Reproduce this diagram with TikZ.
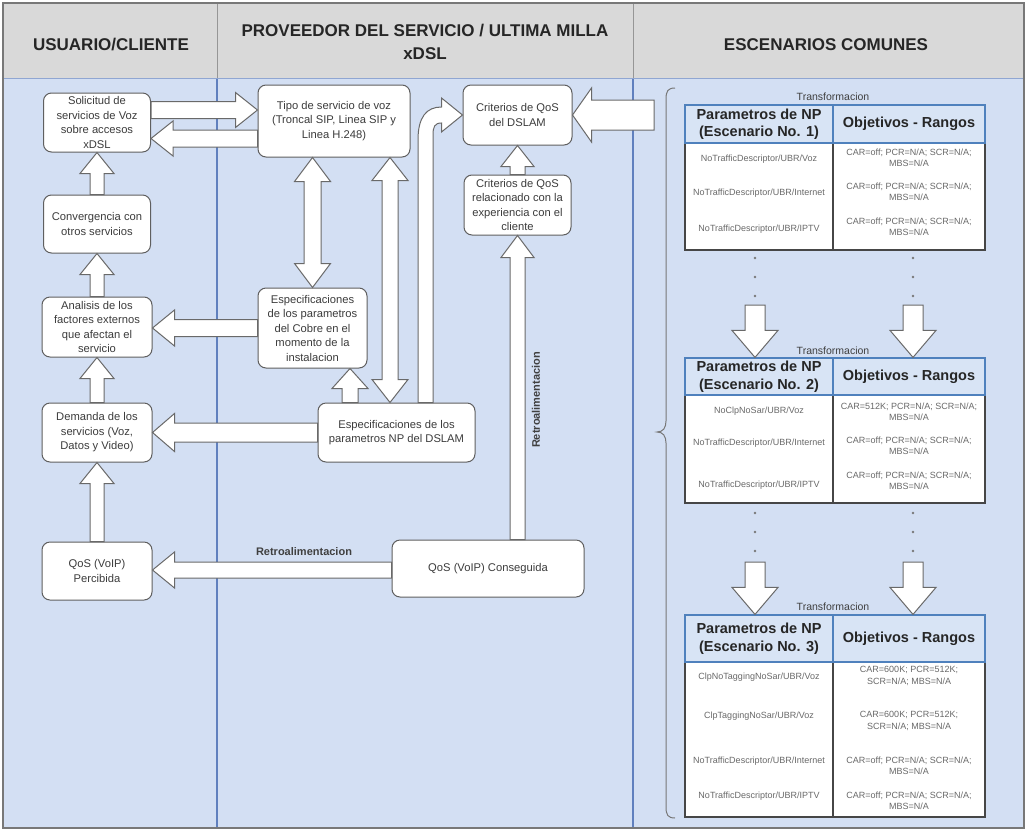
\documentclass[tikz,border=0pt]{standalone}
\usepackage{fontspec}
\setmainfont{Liberation Sans}
\usetikzlibrary{calc}

\definecolor{bodyblue}{RGB}{211,223,243}
\definecolor{headgray}{RGB}{217,217,217}
\definecolor{divblue}{RGB}{96,128,190}
\definecolor{headline}{RGB}{150,150,150}
\definecolor{frameline}{RGB}{120,120,120}
\definecolor{boxline}{RGB}{95,95,95}
\definecolor{arrline}{RGB}{105,105,105}
\definecolor{txt}{RGB}{60,60,60}
\definecolor{thfill}{RGB}{216,228,245}
\definecolor{thline}{RGB}{79,129,189}
\definecolor{tbline}{RGB}{70,70,70}
\definecolor{tbtxt}{RGB}{105,105,105}
\definecolor{dotc}{RGB}{120,120,120}

% straight block arrow: from, to, half shaft, half head, head length
\newcommand\blockarrow[5]{%
  \path (#1) coordinate (baA) (#2) coordinate (baB);
  \path ($(baB)!#5!(baA)$) coordinate (baH);
  \draw[blk] ($(baA)!#3!90:(baB)$) -- ($(baH)!#3!90:(baB)$) -- ($(baH)!#4!90:(baB)$)
    -- (baB) -- ($(baH)!#4!-90:(baB)$) -- ($(baH)!#3!-90:(baB)$)
    -- ($(baA)!#3!-90:(baB)$) -- cycle;
}
% double-headed block arrow
\newcommand\dblockarrow[5]{%
  \path (#1) coordinate (baA) (#2) coordinate (baB);
  \path ($(baB)!#5!(baA)$) coordinate (baH) ($(baA)!#5!(baB)$) coordinate (baG);
  \draw[blk] (baA) -- ($(baG)!#4!90:(baB)$) -- ($(baG)!#3!90:(baB)$)
    -- ($(baH)!#3!90:(baB)$) -- ($(baH)!#4!90:(baB)$) -- (baB)
    -- ($(baH)!#4!-90:(baB)$) -- ($(baH)!#3!-90:(baB)$)
    -- ($(baG)!#3!-90:(baB)$) -- ($(baG)!#4!-90:(baB)$) -- cycle;
}

\begin{document}
\begin{tikzpicture}[x=1pt,y=-1pt,
  hdr/.style={font=\bfseries\fontsize{17}{23}\selectfont, text=black!85, align=center, inner sep=0pt},
  box/.style={draw=boxline, line width=1pt, fill=white, rounded corners=8pt, align=center,
    text=txt, font=\fontsize{11.2}{14.5}\selectfont, inner sep=1pt},
  blk/.style={draw=arrline, fill=white, line width=1pt, line join=miter},
  lbl/.style={font=\bfseries\fontsize{11}{13}\selectfont, text=black!75, inner sep=0pt},
  thead/.style={draw=thline, line width=1.2pt, fill=thfill, font=\bfseries\fontsize{14.5}{17.5}\selectfont,
    align=center, inner sep=0pt, text=black!85},
  tbody/.style={draw=tbline, line width=1.2pt, fill=white, inner sep=0pt},
  tcell/.style={font=\fontsize{9}{11.5}\selectfont, text=tbtxt, align=center, inner sep=0pt},
  trans/.style={font=\fontsize{10.5}{12}\selectfont, text=black!75, inner sep=0pt},
  brace/.style={draw=frameline, line width=1pt}
]
\useasboundingbox (0,0) rectangle (1027,830);

% lanes
\fill[white] (0,0) rectangle (1027,830);
\fill[bodyblue] (3,78) rectangle (1024,828);
\fill[headgray] (3,3) rectangle (1024,78);
\draw[divblue, line width=1.2pt] (217,78) -- (217,828) (633,78) -- (633,828);
\draw[headline, line width=1pt] (217,3) -- (217,78) (633,3) -- (633,78);
\draw[divblue!70, line width=1pt] (3,78) -- (1024,78);
\draw[frameline, line width=1.5pt] (3,3) rectangle (1024,828);

\node[hdr] (h1) at (111,45) {USUARIO/CLIENTE};
\node[hdr] (h2) at (425,42) {PROVEEDOR DEL SERVICIO / ULTIMA MILLA\\xDSL};
\node[hdr] (h3) at (826,45) {ESCENARIOS COMUNES};

% user column
\node[box, minimum width=107pt, minimum height=59pt] (sol) at (97,122.5)
  {Solicitud de\\servicios de Voz\\sobre accesos\\xDSL};
\node[box, minimum width=107pt, minimum height=58pt] (conv) at (97,224)
  {Convergencia con\\otros servicios};
\node[box, minimum width=110pt, minimum height=60pt] (anal) at (97,327)
  {Analisis de los\\factores externos\\que afectan el\\servicio};
\node[box, minimum width=110pt, minimum height=59pt] (dem) at (97,432.5)
  {Demanda de los\\servicios (Voz,\\Datos y Video)};
\node[box, minimum width=110pt, minimum height=58pt] (qosp) at (97,571)
  {QoS (VoIP)\\Percibida};

% provider column
\node[box, minimum width=152pt, minimum height=72pt] (tipo) at (334,121)
  {Tipo de servicio de voz\\(Troncal SIP, Linea SIP y\\Linea H.248)};
\node[box, minimum width=109pt, minimum height=80pt] (cobre) at (312.5,328)
  {Especificaciones\\de los parametros\\del Cobre en el\\momento de la\\instalacion};
\node[box, minimum width=157pt, minimum height=59pt] (np) at (396.5,432.5)
  {Especificaciones de los\\parametros NP del DSLAM};
\node[box, minimum width=192pt, minimum height=57pt] (qosc) at (488,568.5)
  {QoS (VoIP) Conseguida};
\node[box, minimum width=109pt, minimum height=60pt] (critd) at (517.5,115)
  {Criterios de QoS\\del DSLAM};
\node[box, minimum width=107pt, minimum height=60pt] (critc) at (517.5,205)
  {Criterios de QoS\\relacionado con la\\experiencia con el\\cliente};

% flows in the user column
\blockarrow{conv.north}{sol.south}{7pt}{17pt}{21pt}
\blockarrow{anal.north}{conv.south}{7pt}{17pt}{21pt}
\blockarrow{dem.north}{anal.south}{7pt}{17pt}{21pt}
\blockarrow{qosp.north}{dem.south}{7pt}{17pt}{21pt}

% flows between user and provider
\blockarrow{$(sol.east)+(0,-12.5)$}{$(tipo.west|-sol.east)+(0,-12.5)$}{8.5pt}{17.5pt}{22pt}
\blockarrow{$(tipo.west|-sol.east)+(0,16)$}{$(sol.east)+(0,16)$}{8.5pt}{17.5pt}{22pt}
\blockarrow{cobre.west}{anal.east|-cobre.west}{8.5pt}{18pt}{22pt}
\blockarrow{np.west}{dem.east|-np.west}{9.5pt}{19pt}{22pt}
\blockarrow{$(qosc.west)+(0,1.5)$}{$(qosp.east|-qosc.west)+(0,1.5)$}{8pt}{18pt}{22pt}
\node[lbl] (retro1) at (304,552) {Retroalimentacion};

% flows inside the provider column
\dblockarrow{cobre.north|-tipo.south}{cobre.north}{8.5pt}{18pt}{24pt}
\dblockarrow{$(tipo.south)+(56,0)$}{$(np.north-|tipo.south)+(56,0)$}{8pt}{18pt}{23pt}
\blockarrow{$(np.north)+(-46.5,0)$}{$(cobre.south-|np.north)+(-46.5,0)$}{8pt}{18pt}{20pt}

% bent arrow from the DSLAM specification up to the DSLAM criteria
\coordinate (cvtip) at (critd.west);
\coordinate (cvbase) at ($(np.north)+(29,0)$);
\draw[blk] ($(cvbase)+(-7.5,0)$) -- ($(cvbase|-cvtip)+(-7.5,25)$)
  .. controls ($(cvbase|-cvtip)+(-7.5,2)$) and ($(cvtip)+(-36,-8)$) .. ($(cvtip)+(-21,-8)$)
  -- ($(cvtip)+(-21,-17)$) -- (cvtip) -- ($(cvtip)+(-21,17)$) -- ($(cvtip)+(-21,8)$)
  .. controls ($(cvtip)+(-28,8)$) and ($(cvbase|-cvtip)+(7.5,12)$) .. ($(cvbase|-cvtip)+(7.5,20)$)
  -- ($(cvbase)+(7.5,0)$) -- cycle;

\blockarrow{critc.south|-qosc.north}{critc.south}{7.5pt}{16.5pt}{22pt}
\blockarrow{critc.north}{critd.south}{7.5pt}{16.5pt}{21pt}
\node[lbl, rotate=90] (retro2) at (536,400) {Retroalimentacion};

% scenario tables
\node[tbody, minimum width=148pt, minimum height=107pt] (t1l) at (759,196.5) {};
\node[tbody, minimum width=152pt, minimum height=107pt] (t1r) at (909,196.5) {};
\node[thead, minimum width=148pt, minimum height=38pt] (t1a) at (759,124) {Parametros de NP\\(Escenario No. 1)};
\node[thead, minimum width=152pt, minimum height=38pt] (t1b) at (909,124) {Objetivos - Rangos};
\node[trans] (tr1) at (833,97) {Transformacion};
\node[tcell] at (759,159) {NoTrafficDescriptor/UBR/Voz};
\node[tcell] at (909,158) {CAR=off; PCR=N/A; SCR=N/A;\\MBS=N/A};
\node[tcell] at (759,193) {NoTrafficDescriptor/UBR/Internet};
\node[tcell] at (909,192) {CAR=off; PCR=N/A; SCR=N/A;\\MBS=N/A};
\node[tcell] at (759,229) {NoTrafficDescriptor/UBR/IPTV};
\node[tcell] at (909,227) {CAR=off; PCR=N/A; SCR=N/A;\\MBS=N/A};

\node[tbody, minimum width=148pt, minimum height=108pt] (t2l) at (759,449) {};
\node[tbody, minimum width=152pt, minimum height=108pt] (t2r) at (909,449) {};
\node[thead, minimum width=148pt, minimum height=37pt] (t2a) at (759,376.5) {Parametros de NP\\(Escenario No. 2)};
\node[thead, minimum width=152pt, minimum height=37pt] (t2b) at (909,376.5) {Objetivos - Rangos};
\node[trans] (tr2) at (833,351) {Transformacion};
\node[tcell] at (759,411) {NoClpNoSar/UBR/Voz};
\node[tcell] at (909,412) {CAR=512K; PCR=N/A; SCR=N/A;\\MBS=N/A};
\node[tcell] at (759,443) {NoTrafficDescriptor/UBR/Internet};
\node[tcell] at (909,446) {CAR=off; PCR=N/A; SCR=N/A;\\MBS=N/A};
\node[tcell] at (759,485) {NoTrafficDescriptor/UBR/IPTV};
\node[tcell] at (909,481) {CAR=off; PCR=N/A; SCR=N/A;\\MBS=N/A};

\node[tbody, minimum width=148pt, minimum height=155pt] (t3l) at (759,739.5) {};
\node[tbody, minimum width=152pt, minimum height=155pt] (t3r) at (909,739.5) {};
\node[thead, minimum width=148pt, minimum height=47pt] (t3a) at (759,638.5) {Parametros de NP\\(Escenario No. 3)};
\node[thead, minimum width=152pt, minimum height=47pt] (t3b) at (909,638.5) {Objetivos - Rangos};
\node[trans] (tr3) at (833,607) {Transformacion};
\node[tcell] at (759,677) {ClpNoTaggingNoSar/UBR/Voz};
\node[tcell] at (909,676) {CAR=600K; PCR=512K;\\SCR=N/A; MBS=N/A};
\node[tcell] at (759,716) {ClpTaggingNoSar/UBR/Voz};
\node[tcell] at (909,721) {CAR=600K; PCR=512K;\\SCR=N/A; MBS=N/A};
\node[tcell] at (759,761) {NoTrafficDescriptor/UBR/Internet};
\node[tcell] at (909,766) {CAR=off; PCR=N/A; SCR=N/A;\\MBS=N/A};
\node[tcell] at (759,796) {NoTrafficDescriptor/UBR/IPTV};
\node[tcell] at (909,801) {CAR=off; PCR=N/A; SCR=N/A;\\MBS=N/A};

% continuation dots
\foreach \yy in {258,277,296,513,532,551}{
  \fill[dotc] (755,\yy) circle (1.3pt);
  \fill[dotc] (913,\yy) circle (1.3pt);
}

% transformation arrows between scenarios
\coordinate (d1a) at (755,305);
\coordinate (d1b) at (913,305);
\coordinate (d2a) at (755,562);
\coordinate (d2b) at (913,562);
\blockarrow{d1a}{t2a.north-|d1a}{10pt}{23pt}{27pt}
\blockarrow{d1b}{t2b.north-|d1b}{10pt}{23pt}{27pt}
\blockarrow{d2a}{t3a.north-|d2a}{10pt}{23pt}{27pt}
\blockarrow{d2b}{t3b.north-|d2b}{10pt}{23pt}{27pt}

% brace grouping the scenarios
\draw[brace] (675,88) .. controls (668,88) and (666,91) .. (666,99) -- (666,421)
  .. controls (666,428) and (663,432) .. (657,432)
  .. controls (663,432) and (666,436) .. (666,443) -- (666,807)
  .. controls (666,815) and (668,818) .. (675,818);

% feed from the scenarios into the DSLAM criteria
\coordinate (feed) at (654,115);
\blockarrow{feed}{critd.east}{15pt}{27pt}{19pt}
\end{tikzpicture}
\end{document}
